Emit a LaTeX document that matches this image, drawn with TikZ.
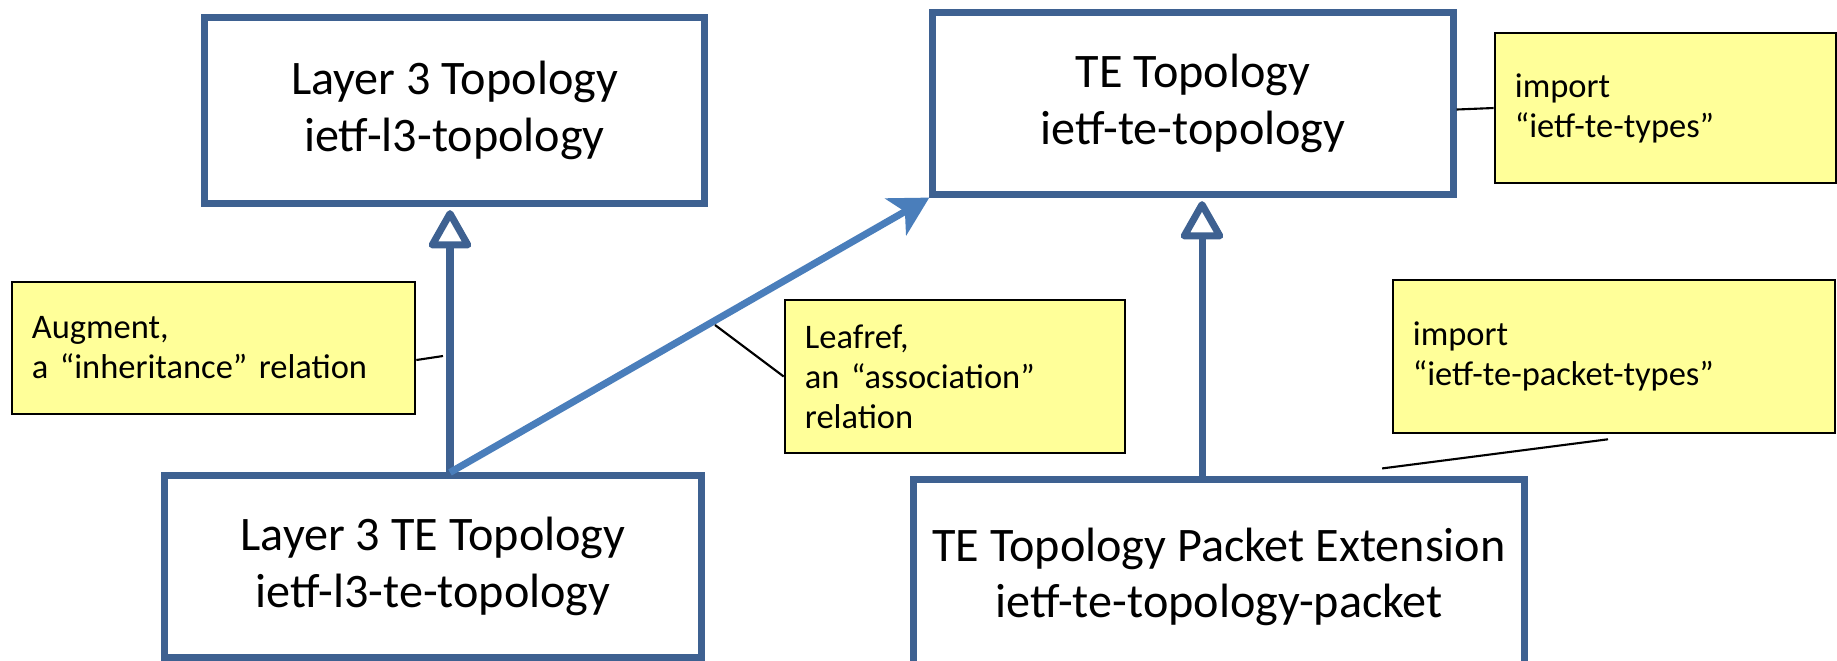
\documentclass[tikz,border=0pt]{standalone}
\usepackage{fontspec}
\setmainfont{Carlito}
\usepackage{tikz}
\usetikzlibrary{arrows.meta}

\definecolor{modblue}{HTML}{3E6191}
\definecolor{assocblue}{HTML}{4A7EBB}
\definecolor{noteyellow}{HTML}{FFFF99}

\begin{document}
\begin{tikzpicture}[%
    x=0.01cm,
    y=-0.01cm,
    module/.style={%
      rectangle,
      draw=modblue,
      line width=2pt,
      align=center,
      inner sep=0pt,
      font=\fontsize{13.7}{16}\selectfont
    },
    note/.style={%
      rectangle,
      draw=black,
      fill=noteyellow,
      line width=0.7pt,
      align=left,
      inner xsep=0.2cm,
      inner ysep=0pt,
      font=\fontsize{9.8}{11.4}\selectfont
    },
    inherit/.style={%
      draw=modblue,
      line width=2pt,
      shorten >=1pt,
      -{Triangle[open,length=12pt,width=13pt,line join=round]}
    },
    assoc/.style={%
      draw=assocblue,
      line width=2pt,
      -{Stealth[length=11pt,width=12pt,inset=3pt]}
    },
    leader/.style={draw=black, line width=0.6pt}
  ]
    \useasboundingbox (0,0) rectangle (1837,660);
    \clip (0,0) rectangle (1837,660);

    % modules
    \node[module, minimum width=4.99cm, minimum height=1.85cm] (l3)   at (454.5,110.5)	{Layer 3 Topology\\ietf-l3-topology};
    \node[module, minimum width=5.20cm, minimum height=1.81cm] (te)   at (1193,103.5)	{TE Topology\\ietf-te-topology};
    \node[module, minimum width=5.36cm, minimum height=1.81cm] (l3te) at (433,566.5)	{Layer 3 TE Topology\\ietf-l3-te-topology};
    \node[module, minimum width=6.10cm, minimum height=1.94cm] (pkt)  at (1219,577)	{TE Topology Packet Extension\\ietf-te-topology-packet};

    % notes
    \node[note, text width=3.63cm, minimum height=1.32cm] (augnote)  at (213.5,348)	{Augment,\\a “inheritance” relation};
    \node[note, text width=3.00cm, minimum height=1.53cm] (leafnote) at (955,376.5)	{Leafref,\\an “association”\\relation};
    \node[note, text width=3.01cm, minimum height=1.50cm] (tetypes)  at (1665.5,108)	{import\\“ietf-te-types”};
    \node[note, text width=4.02cm, minimum height=1.53cm] (pkttypes) at (1614,356.5)	{import\\“ietf-te-packet-types”};

    \coordinate (l3up) at ([xshift=-0.045cm]l3.south);
    \coordinate (teup) at ([xshift=0.09cm]te.south);
    \coordinate (augtip) at (443,356);
    \coordinate (assocpt) at (715,325);
    \coordinate (pkttip) at ([xshift=1.63cm,yshift=0.08cm]pkt.north);

    \path (l3te.north -| l3up) edge[inherit] (l3up)
          (pkt.north -| teup)  edge[inherit] (teup)
          (l3te.north -| l3up) edge[assoc]   (te.south west);

    \path ([yshift=-0.12cm]augnote.east)                  edge[leader] (augtip)
          (leafnote.west)                                  edge[leader] (assocpt)
          ([yshift=-0.06cm]te.east)                        edge[leader] (tetypes.west)
          ([xshift=-0.06cm,yshift=-0.05cm]pkttypes.south) edge[leader] (pkttip);
  \end{tikzpicture}
\end{document}
